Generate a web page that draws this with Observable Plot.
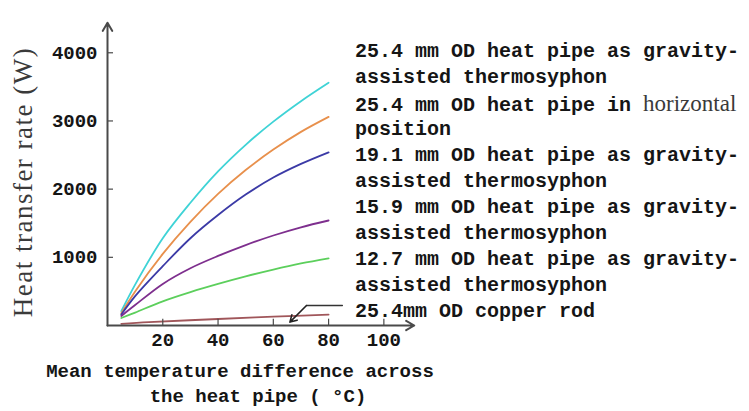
<!DOCTYPE html>
<html><head><meta charset="utf-8">
<script src="https://cdn.jsdelivr.net/npm/d3@7"></script>
<script src="https://cdn.jsdelivr.net/npm/@observablehq/plot@0.6"></script>
<style>
body{margin:0;background:#fff}
#wrap{position:relative;width:749px;height:411px;overflow:hidden;background:#fff}
#wrap svg{position:absolute;left:0;top:0}
.mono{font-family:"Liberation Mono",monospace;font-weight:bold;color:#151515;white-space:pre;position:absolute}
.serif{font-family:"Liberation Serif",serif;font-weight:normal;color:#3a3a3a}
</style></head><body><div id="wrap"></div>
<script>
// Mean temperature difference (°C)
const dT = [5, 10, 20, 30, 40, 50, 60, 70, 80];
// Heat transfer rate (W)
const q254Gravity = [210, 600, 1280, 1800, 2260, 2650, 2990, 3290, 3560];
const q254Horizontal = [180, 500, 1050, 1520, 1930, 2280, 2580, 2840, 3060];
const q191Gravity = [160, 430, 870, 1280, 1620, 1920, 2170, 2370, 2540];
const q159Gravity = [140, 300, 610, 840, 1020, 1180, 1320, 1440, 1540];
const q127Gravity = [110, 190, 355, 490, 610, 720, 820, 910, 985];
const dTCopper = [5, 15, 40, 60, 80];
const qCopper = [25, 50, 95, 130, 160];

const seriesNames = ["25.4 gravity", "25.4 horizontal", "19.1 gravity", "15.9 gravity", "12.7 gravity", "copper rod"];
const seriesColors = ["#3fd3d6", "#e8904c", "#3b3aa6", "#7e2f8e", "#5ccf5c", "#a0565a"];

const yTicks = [1000, 2000, 3000, 4000];
const xTicks = [20, 40, 60, 80, 100];

const legendLines = [
  "25.4 mm OD heat pipe as gravity-",
  "assisted thermosyphon",
  "25.4 mm OD heat pipe in |horizontal",
  "position",
  "19.1 mm OD heat pipe as gravity-",
  "assisted thermosyphon",
  "15.9 mm OD heat pipe as gravity-",
  "assisted thermosyphon",
  "12.7 mm OD heat pipe as gravity-",
  "assisted thermosyphon",
  "25.4mm OD copper rod"
];
const yLabel = "Heat transfer rate (W)";
const xLabel1 = "Mean temperature difference across";
const xLabel2 = "the heat pipe ( \u00b0C)";

// leader line from copper-rod label to its curve
const leader = [{x: 85, y: 293}, {x: 72, y: 293}];
const leaderArrow = [{x1: 72, y1: 293, x2: 66, y2: 50}];

const allSeries = [q254Gravity, q254Horizontal, q191Gravity, q159Gravity, q127Gravity];
const rows = [];
allSeries.forEach((vals, i) => vals.forEach((v, j) => rows.push({x: dT[j], y: v, s: seriesNames[i]})));
qCopper.forEach((v, j) => rows.push({x: dTCopper[j], y: v, s: seriesNames[5]}));

const axisColor = "#4a4a4a";
const chart = Plot.plot({
  width: 749, height: 411,
  marginLeft: 107, marginRight: 338, marginTop: 25, marginBottom: 86,
  x: {domain: [0, 110]},
  y: {domain: [0, 4400]},
  color: {domain: seriesNames, range: seriesColors},
  style: {fontFamily: "Liberation Mono, monospace", fontSize: "19px", fontWeight: "bold", color: "#151515", background: "transparent"},
  marks: [
    Plot.line(rows, {x: "x", y: "y", z: "s", stroke: "s", strokeWidth: 1.8, curve: "catmull-rom"}),
    Plot.line(leader, {x: "x", y: "y", stroke: "#333", strokeWidth: 1.3}),
    Plot.arrow(leaderArrow, {x1: "x1", y1: "y1", x2: "x2", y2: "y2", stroke: "#222", strokeWidth: 1.6, headLength: 7}),
    Plot.link(yTicks, {x1: 0, x2: 2, y1: d => d, y2: d => d, stroke: axisColor, strokeWidth: 1.2}),
    Plot.link(xTicks, {x1: d => d, x2: d => d, y1: 0, y2: 100, stroke: axisColor, strokeWidth: 1.2}),
    Plot.arrow([{x1: 0, y1: 0, x2: 0, y2: 4440}], {x1: "x1", y1: "y1", x2: "x2", y2: "y2", stroke: axisColor, strokeWidth: 2, headLength: 7}),
    Plot.arrow([{x1: 0, y1: 0, x2: 111, y2: 0}], {x1: "x1", y1: "y1", x2: "x2", y2: "y2", stroke: axisColor, strokeWidth: 2, headLength: 7}),
    Plot.axisY({ticks: yTicks, tickSize: 0, tickPadding: 10, label: null, tickFormat: d => String(d)}),
    Plot.axisX({ticks: xTicks, tickSize: 0, tickPadding: 7, label: null, tickFormat: d => String(d)})
  ]
});
const wrap = document.getElementById("wrap");
wrap.appendChild(chart);

// legend labels
legendLines.forEach((line, i) => {
  const d = document.createElement("div");
  d.className = "mono";
  d.style.left = "355px";
  d.style.top = (39 + i * 26) + "px";
  d.style.fontSize = "20px";
  d.style.lineHeight = "26px";
  const parts = line.split("|");
  d.textContent = parts[0];
  if (parts[1]) {
    const sp = document.createElement("span");
    sp.className = "serif";
    sp.style.fontSize = "23px";
    sp.textContent = parts[1];
    d.appendChild(sp);
  }
  wrap.appendChild(d);
});

// y label
const yl = document.createElement("div");
yl.textContent = yLabel;
Object.assign(yl.style, {position: "absolute", left: "23px", top: "182px", transform: "translate(-50%,-50%) rotate(-90deg)",
  fontFamily: "Liberation Serif, serif", fontSize: "27px", letterSpacing: "1.5px", color: "#3a3a3a", whiteSpace: "nowrap"});
wrap.appendChild(yl);

// x label lines
[[xLabel1, 240, 372], [xLabel2, 258, 397]].forEach(([t, cx, cy]) => {
  const d = document.createElement("div");
  d.className = "mono";
  d.textContent = t;
  Object.assign(d.style, {left: cx + "px", top: cy + "px", transform: "translate(-50%,-50%)", fontSize: "19px", lineHeight: "24px"});
  wrap.appendChild(d);
});
</script>
</body></html>
